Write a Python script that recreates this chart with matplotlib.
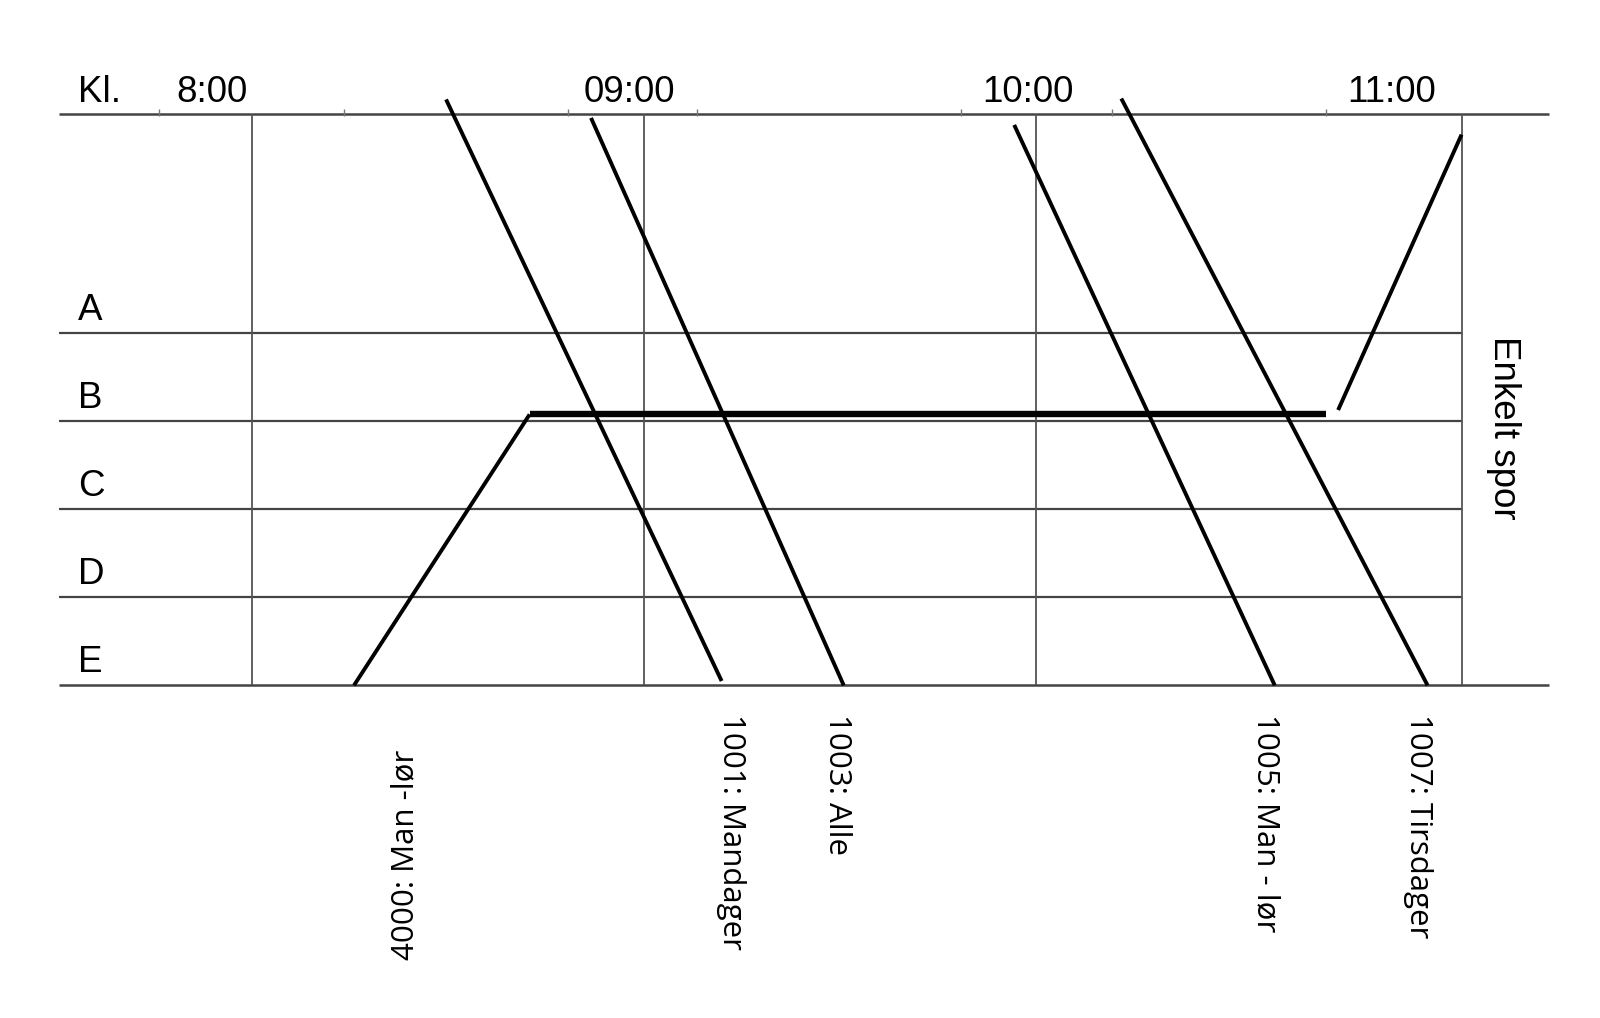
import matplotlib
matplotlib.use("Agg")
import matplotlib.pyplot as plt

# time axis in minutes after midnight, track axis: E=0 ... A=4
tracks = ['A', 'B', 'C', 'D', 'E']
track_y = [4, 3, 2, 1, 0]
top_y = 6.5

hour_lines = [480, 540, 600, 665.2]
time_labels = ['8:00', '09:00', '10:00', '11:00']
time_label_x = [473.8, 537.8, 598.8, 654.5]
small_ticks = [465.8, 494.1, 528.3, 548.1, 588.6, 611.6, 644.5]

# train 4000 (up from E, waits on B, then up to the single track)
t4000_x = [495.6, 522.5, 644.5]
t4000_y = [0.0, 3.08, 3.08]
t4000b_x = [646.3, 665.2]
t4000b_y = [3.13, 6.26]

# down trains: start (top) and end (at E)
trains = ['1001', '1003', '1005', '1007']
start_x = [509.7, 531.9, 596.7, 613.1]
start_y = [6.66, 6.45, 6.37, 6.67]
end_x = [551.9, 570.6, 636.6, 660.0]
end_y = [0.05, 0.0, 0.0, 0.0]

train_labels = ['4000: Man -lør', '1001: Mandager', '1003: Alle', '1005: Man - lør', '1007: Tirsdager']
label_x = [503.4, 553.4, 569.5, 635.2, 658.6]

fig = plt.figure(figsize=(16, 10.18), dpi=100)
ax = fig.add_axes([0, 0, 1, 1])
ax.set_xlim(441.4, 686.4)
ax.set_ylim(-3.78, 7.79)
ax.axis('off')

grid_c = '#444444'
# top and bottom lines
ax.hlines([top_y, 0], 450.5, 678.6, color=grid_c, lw=1.8)
# track lines
ax.hlines(track_y[:4], 450.5, 665.2, color=grid_c, lw=1.6)
# hour lines
ax.vlines(hour_lines, 0, top_y, color='#555555', lw=1.3)
ax.vlines(small_ticks, top_y - 0.03, top_y + 0.05, color='#777777', lw=1.0)

hdr = dict(family='Liberation Sans', fontsize=26.5)
ax.text(453.4, 6.74, 'Kl.', va='center', ha='left', **hdr)
for x, s in zip(time_label_x, time_labels):
    ax.text(x, 6.74, s, va='center', ha='center', **hdr)

for t, y in zip(tracks, track_y):
    ax.text(453.4, y + 0.26, t, va='center', ha='left', **hdr)

ax.text(671.6, 3.97, 'Enkelt spor', rotation=-90, va='top', ha='center', **hdr)

# train paths
ax.plot(t4000_x[:2], t4000_y[:2], color='black', lw=2.8, solid_capstyle='butt')
ax.plot(t4000_x[1:], t4000_y[1:], color='black', lw=4.6, solid_capstyle='butt')
ax.plot(t4000b_x, t4000b_y, color='black', lw=2.8, solid_capstyle='butt')
for i in range(len(trains)):
    ax.plot([start_x[i], end_x[i]], [start_y[i], end_y[i]], color='black', lw=2.8,
            solid_capstyle='butt')

# train labels
lbl = dict(family='Open Sans', fontsize=22.5)
ax.text(label_x[0], -0.73, train_labels[0], rotation=90, va='top', ha='center', **lbl)
for x, s in zip(label_x[1:], train_labels[1:]):
    ax.text(x, -0.32, s, rotation=-90, va='top', ha='center', **lbl)

fig.savefig('out.png', dpi=100)
